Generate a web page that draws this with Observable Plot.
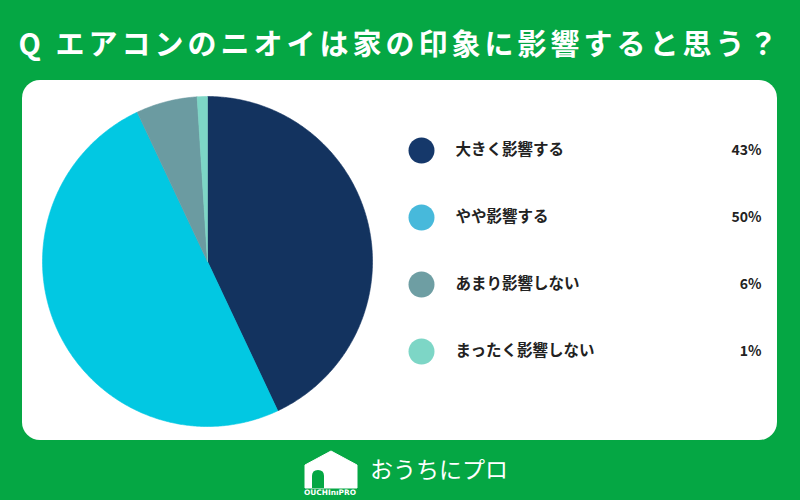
<!DOCTYPE html>
<html>
<head>
<meta charset="utf-8">
<script src="https://cdn.jsdelivr.net/npm/d3@7"></script>
<script src="https://cdn.jsdelivr.net/npm/@observablehq/plot@0.6"></script>
<style>
  html, body { margin: 0; padding: 0; }
  body { width: 800px; height: 500px; background: #05a744; position: relative; overflow: hidden;
         font-family: "Noto Sans CJK JP", "Noto Sans", sans-serif; }
  #title { position: absolute; left: 0; top: 20px; width: 800px; text-align: center; color: #fff;
           font-size: 29px; font-weight: 700; letter-spacing: 4px; line-height: 44px; white-space: nowrap; }
  #panel { position: absolute; left: 22px; top: 80px; width: 755px; height: 360px; background: #fff; border-radius: 18px; }
  #pie { position: absolute; left: 15px; top: 11px; }
  #legend { position: absolute; left: 378px; top: 20px; }
  #footer { position: absolute; left: 300px; top: 446px; width: 220px; height: 52px; }
  #brand { position: absolute; left: 70px; top: 6px; color: #fff; font-size: 23px; font-weight: 400; letter-spacing: 0px; white-space: nowrap; line-height: 32px; }
</style>
</head>
<body>
<div id="title">Q エアコンのニオイは家の印象に影響すると思う？</div>
<div id="panel">
  <div id="pie"></div>
  <div id="legend"></div>
</div>
<div id="footer">
  <svg width="64" height="52" style="position:absolute;left:0;top:0">
    <path d="M5 19 L31 5 L57 19 L57 42 L5 42 Z" fill="#fff" stroke="#fff" stroke-width="1" stroke-linejoin="round"/>
    <path d="M12 42 L12 30 Q12 24 18 24 Q24 24 24 30 L24 42 Z" fill="#05a744"/>
    <text x="4" y="49" fill="#fff" font-size="7.5" font-family="Liberation Sans Narrow, DejaVu Sans Condensed, sans-serif" font-weight="700" textLength="52" lengthAdjust="spacingAndGlyphs">OUCHInıPRO</text>
  </svg>
  <div id="brand">おうちにプロ</div>
</div>
<script>
// Data
const categories = ["大きく影響する", "やや影響する", "あまり影響しない", "まったく影響しない"];
const values = [43, 50, 6, 1];
const labels = ["43%", "50%", "6%", "1%"];
const pieColors = ["#13335f", "#02c8e2", "#6b9ba1", "#7dd6c6"];
const legendColors = ["#15386a", "#47b9db", "#6e9ea3", "#7dd6c6"];

// Build pie polygons from cumulative shares (geometry only)
const total = d3.sum(values);
const pts = [];
let acc = 0;
categories.forEach((c, i) => {
  const a0 = acc / total * 2 * Math.PI;
  acc += values[i];
  const a1 = acc / total * 2 * Math.PI;
  pts.push({cat: c, a: null});
  const n = Math.max(2, Math.ceil((a1 - a0) / (Math.PI / 360)));
  for (let k = 0; k <= n; k++) pts.push({cat: c, a: a0 + (a1 - a0) * k / n});
  pts.push({cat: c, a: null});
});
const piePts = pts.map(p => ({cat: p.cat, x: p.a === null ? 0 : Math.sin(p.a), y: p.a === null ? 0 : Math.cos(p.a)}));

const pie = Plot.plot({
  width: 340, height: 340, margin: 0,
  x: {domain: [-1, 1], range: [5, 335], axis: null},
  y: {domain: [-1, 1], range: [335, 5], axis: null},
  color: {domain: categories, range: pieColors},
  marks: [
    Plot.line(piePts, {x: "x", y: "y", z: "cat", fill: "cat", stroke: "cat", strokeWidth: 0.6, curve: "linear"})
  ]
});
document.getElementById("pie").appendChild(pie);

const rows = categories.map((c, i) => ({cat: c, label: labels[i]}));
const legend = Plot.plot({
  width: 370, height: 290, margin: 0,
  x: {type: "identity", axis: null},
  y: {type: "point", domain: categories, range: [49, 251], padding: 0, axis: null},
  color: {domain: categories, range: legendColors},
  style: {fontFamily: "'Noto Sans CJK JP', sans-serif"},
  marks: [
    Plot.dot(rows, {x: () => 21, y: "cat", r: 13, fill: "cat"}),
    Plot.text(rows, {x: () => 55, y: "cat", text: "cat", textAnchor: "start", fontSize: 15.5, fontWeight: 700, fill: "#222"}),
    Plot.text(rows, {x: () => 361, y: "cat", text: "label", textAnchor: "end", fontSize: 14, fontWeight: 700, fill: "#222"})
  ]
});
document.getElementById("legend").appendChild(legend);
</script>
</body>
</html>
